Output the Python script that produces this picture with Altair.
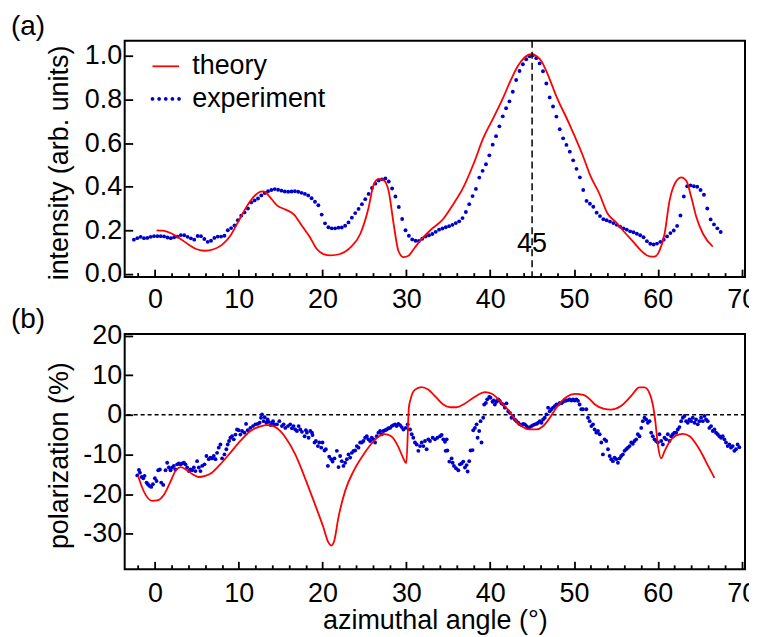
import altair as alt
import numpy as np
import pandas as pd

FONT = "Liberation Sans"
RED = "#ff0000"
BLUE = "#0000cd"

legend_labels = ["theory", "experiment"]
panel_labels = ["(a)", "(b)"]
x_major = [0, 10, 20, 30, 40, 50, 60, 70]
x_minor = [-2, 2, 4, 6, 8, 12, 14, 16, 18, 22, 24, 26, 28, 32, 34, 36, 38,
           42, 44, 46, 48, 52, 54, 56, 58, 62, 64, 66, 68]
ya_ticks = [0.0, 0.2, 0.4, 0.6, 0.8, 1.0]
yb_ticks = [-30, -20, -10, 0, 10, 20]

# ---------------- panel (a): intensity ----------------
exp_a_start = -2.5
exp_a_step = 0.4
exp_a_value = [
    0.157, 0.164, 0.170, 0.164, 0.165, 0.170, 0.173, 0.173, 0.173, 0.172,
    0.167, 0.164, 0.168, 0.171, 0.178, 0.177, 0.170, 0.163, 0.157, 0.174,
    0.173, 0.160, 0.147, 0.152, 0.165, 0.171, 0.171, 0.175,
    0.200, 0.210, 0.222, 0.246, 0.267, 0.282, 0.300, 0.328, 0.337, 0.346,
    0.360, 0.371, 0.379, 0.385, 0.389, 0.386, 0.382, 0.378, 0.377, 0.378,
    0.379, 0.377, 0.372, 0.367, 0.360, 0.347, 0.331, 0.315, 0.272, 0.232,
    0.214, 0.209, 0.209, 0.212,
    0.213, 0.221, 0.236, 0.258, 0.279, 0.298,
    0.320, 0.343, 0.367, 0.394, 0.414, 0.428, 0.434, 0.438, 0.424, 0.392,
    0.355, 0.307, 0.252, 0.200, 0.175, 0.158, 0.152, 0.151, 0.161, 0.171,
    0.177, 0.183, 0.193, 0.203, 0.208, 0.214, 0.219, 0.225, 0.233, 0.241,
    0.256, 0.284, 0.320, 0.357, 0.390, 0.442, 0.473, 0.503, 0.544, 0.593,
    0.632, 0.677, 0.723, 0.760, 0.792, 0.836, 0.890, 0.931, 0.962, 0.985,
    0.999, 1.003, 0.990, 0.966, 0.930, 0.874, 0.810, 0.768, 0.722, 0.664,
    0.622, 0.592, 0.561, 0.521, 0.482, 0.443, 0.385, 0.335, 0.322, 0.308,
    0.281, 0.265, 0.251, 0.246, 0.240, 0.233, 0.225, 0.217, 0.209, 0.203,
    0.195, 0.191, 0.184, 0.177, 0.168, 0.150, 0.138, 0.135, 0.139, 0.147,
    0.157, 0.172, 0.187, 0.199, 0.220, 0.268, 0.355, 0.402, 0.406, 0.402,
    0.400, 0.385, 0.363, 0.300, 0.250, 0.227, 0.209, 0.192,
]

th_a_angle = [
    0.2, 1.0, 2.0, 3.0, 4.0, 5.0, 6.0, 7.0, 8.0, 9.0, 10.0, 11.0, 12.0, 12.6,
    13.0, 13.6, 14.6, 15.6, 16.6, 17.5, 18.5, 19.3, 20.1, 21.0, 22.0, 23.3,
    24.5, 25.5, 26.1, 26.7, 27.3, 27.9, 28.5, 29.05, 29.65, 30.25, 31.0, 32.0,
    33.0, 34.4, 35.6, 36.8, 38.0, 39.2, 40.4, 41.55, 42.5, 43.3, 44.1, 44.9,
    45.6, 46.1, 46.7, 47.9, 49.5, 51.0, 52.0, 53.0, 54.0, 55.0, 56.0, 57.0,
    58.0, 59.0, 59.6, 60.2, 60.8, 61.4, 62.0, 62.8, 63.4, 64.0, 64.6, 65.4,
    66.55,
]
th_a_value = [
    0.200, 0.198, 0.185, 0.162, 0.135, 0.113, 0.106, 0.113, 0.133, 0.175,
    0.243, 0.312, 0.362, 0.377, 0.379, 0.358, 0.313, 0.295, 0.272, 0.223,
    0.168, 0.115, 0.091, 0.085, 0.090, 0.120, 0.183, 0.305, 0.410, 0.436,
    0.430, 0.378, 0.225, 0.106, 0.077, 0.083, 0.120, 0.167, 0.205, 0.252,
    0.320, 0.397, 0.503, 0.625, 0.717, 0.809, 0.893, 0.954, 0.993, 1.008,
    0.998, 0.977, 0.931, 0.815, 0.683, 0.548, 0.446, 0.370, 0.277, 0.237,
    0.192, 0.150, 0.107, 0.080, 0.079, 0.107, 0.183, 0.336, 0.412, 0.443,
    0.427, 0.350, 0.260, 0.183, 0.125,
]

marker_angle = [45]
marker_label = ["45"]
marker_label_y = [0.1]

# ---------------- panel (b): polarization ----------------
th_b_angle = [
    -2.0, -1.6, -1.1, -0.3, 0.3, 1.1, 1.9, 2.5, 3.1, 3.7, 4.5, 5.2, 6.0, 6.8,
    7.8, 9.0, 10.2, 11.4, 12.6, 13.4, 14.2, 15.0, 15.6, 16.75, 17.9, 19.1,
    20.1, 20.7, 21.05, 21.4, 21.9, 22.7, 23.7, 24.9, 26.3, 27.4, 28.2, 29.0,
    29.6, 30.0, 30.3, 30.5, 31.0, 31.8, 32.6, 33.5, 34.4, 35.2, 36.0, 36.8,
    38.0, 39.4, 40.2, 41.2, 42.2, 43.1, 43.9, 44.7, 45.5, 46.3, 47.1, 47.9,
    49.1, 50.1, 51.1, 51.9, 52.5, 53.6, 54.4, 55.6, 56.8, 57.8, 58.4, 59.0,
    59.4, 59.7, 60.0, 60.4, 60.8, 61.4, 62.2, 63.0, 63.8, 64.6, 65.4, 66.0,
    66.75,
]
th_b_value = [
    -15.4, -17.9, -20.2, -21.7, -21.6, -20.1, -16.7, -14.0, -13.2, -13.8,
    -15.0, -15.7, -15.4, -14.6, -12.5, -9.6, -6.6, -4.1, -2.9, -2.6, -2.9,
    -4.2, -5.8, -10.0, -15.9, -22.6, -28.4, -32.2, -33.0, -31.8, -25.9, -19.2,
    -14.2, -10.0, -6.2, -4.9, -5.4, -7.9, -10.8, -12.2, 1.8, 3.9, 6.3, 7.0,
    6.4, 4.5, 2.6, 1.9, 1.9, 2.6, 4.3, 5.7, 5.3, 3.4, 1.1, -1.6, -3.1, -3.7,
    -3.7, -2.9, -0.8, 1.8, 4.5, 5.3, 5.0, 3.9, 2.6, 1.5, 1.3, 2.2, 4.7, 6.9,
    6.9, 5.5, 2.6, -1.6, -7.5, -11.0, -9.2, -6.8, -5.2, -4.8, -5.4, -7.5,
    -10.4, -12.9, -15.9,
]

exp_b_angle = [
    -2.10, -1.90, -1.78, -1.58, -1.38, -1.23, -0.99, -0.83, -0.67, -0.43,
    -0.23, 0.00, 0.20, 0.40, 0.60, 0.76, 1.00, 1.27, 1.47, 1.67,
    1.87, 2.07, 2.26, 2.46, 2.66, 2.86, 3.06, 3.26, 3.46, 3.65,
    3.85, 4.05, 4.25, 4.45, 4.65, 4.84, 5.04, 5.24, 5.44, 5.64,
    5.92, 6.15, 6.43, 6.63, 6.83, 7.03, 7.23, 7.42, 7.62, 7.82,
    8.02, 8.30, 8.53, 8.69, 8.85, 9.01, 9.21, 9.41, 9.61, 9.80,
    10.00, 10.20, 10.40, 10.68, 10.88, 11.08, 11.39, 11.71, 11.99, 12.27,
    12.50, 12.66, 12.78, 12.98, 13.10, 13.30, 13.45, 13.58, 13.80, 13.97,
    14.10, 14.25,
    14.57, 14.85, 15.16, 15.36, 15.56, 15.88, 16.15, 16.35, 16.55, 16.75,
    16.95, 17.15, 17.35, 17.55, 17.86, 18.02, 18.14, 18.34, 18.54, 18.74,
    18.81, 19.05, 19.21, 19.45, 19.61, 19.85, 20.00, 20.24, 20.40, 20.64,
    20.80, 21.04, 21.20, 21.43, 21.71, 21.91, 22.10, 22.30, 22.50, 22.70,
    22.90, 23.10, 23.30, 23.50, 23.70, 23.89, 24.09, 24.29, 24.49, 24.69,
    24.88, 25.08, 25.28, 25.48, 25.68, 25.88, 26.08, 26.27, 26.47, 26.67,
    26.87, 27.07, 27.27, 27.46, 27.66, 27.86, 28.06, 28.26, 28.46, 28.66,
    28.85, 29.05, 29.25, 29.45, 29.65, 29.93, 30.16, 30.44, 30.64, 30.83,
    31.03, 31.23, 31.43, 31.63, 31.83, 32.03, 32.22, 32.42, 32.62,
    32.82, 33.14, 33.42, 33.70, 34.01, 34.21, 34.41, 34.61, 34.81, 34.69,
    34.89, 35.13, 35.40, 35.52, 35.68, 35.92, 36.20, 36.39, 36.59, 36.79,
    36.99, 37.19, 37.31, 37.50, 37.66, 37.90, 37.98, 38.18, 38.38, 38.50,
    38.69, 38.85, 38.97, 39.17, 39.29, 39.49, 39.65, 39.89, 40.04, 40.28,
    40.44, 40.56, 40.76, 40.96, 41.15, 41.35, 41.55, 41.75, 41.95, 42.15,
    42.35, 42.54, 42.74, 42.94, 43.14, 43.34, 43.54, 43.74, 43.93, 44.13,
    44.33, 44.53, 44.73, 44.93, 45.12, 45.32, 45.52, 45.72, 45.92, 46.12,
    46.31, 46.51, 46.71, 46.91, 47.11, 47.30, 47.50, 47.70, 47.90, 48.10,
    48.30, 48.50, 48.69, 48.89, 49.09, 49.29, 49.49, 49.69, 49.88, 50.08,
    50.28, 50.48, 50.67, 50.87, 51.07,
    51.47, 51.67, 51.87, 52.07, 52.27, 52.46, 52.66, 52.86, 53.06, 53.26,
    53.45, 53.65, 53.85, 54.05, 54.25, 54.44, 54.64, 54.84, 55.04, 55.24,
    55.44, 55.63, 55.83, 56.03, 56.23, 56.43, 56.63, 56.83, 57.02, 57.22,
    57.42, 57.62, 57.82, 58.02, 58.21, 58.41, 58.61, 58.81, 59.01, 59.21,
    59.40, 59.60, 59.80, 60.00, 60.20, 60.40, 60.60, 60.79, 60.99, 61.19,
    61.39, 61.59, 61.79, 61.98, 62.18, 62.38, 62.58, 62.78, 62.98, 63.18,
    63.37, 63.57, 63.77, 63.97, 64.17, 64.37, 64.56, 64.76, 64.96, 65.16,
    65.36, 65.56, 65.75, 65.95, 66.15, 66.35, 66.55, 66.75, 66.94, 67.14,
    67.34, 67.54, 67.74, 67.94, 68.13, 68.33, 68.53, 68.73, 68.93, 69.13,
    69.32, 69.52, 69.72,
]
exp_b_value = [
    -15.3, -13.9, -14.6, -15.7, -16.0, -15.4, -17.1, -17.5, -17.9, -18.2,
    -17.5, -16.0, -16.7, -14.0, -13.8, -17.1, -17.7, -14.0, -12.1, -13.3,
    -14.0, -13.3, -12.9, -13.8, -12.5, -12.3, -12.5, -12.3, -12.1, -12.5,
    -13.3, -14.2, -13.8, -14.0, -13.3, -14.2, -11.7, -13.3, -14.2, -12.9,
    -12.5, -10.4, -11.2, -10.8, -11.0, -10.4, -11.2, -9.6, -8.3, -7.5,
    -11.0, -10.0, -8.7, -7.5, -6.6, -5.8, -5.4, -6.2, -5.0, -3.7,
    -3.9, -5.0, -4.1, -4.5, -2.3, -3.9, -3.3, -2.85, -2.4, -2.3,
    -2.0, -0.75, 0.1, -1.6, -0.6, -2.0, -1.2, -1.8, -2.6, -2.0,
    -1.6, -2.4,
    -2.4, -1.6, -2.85, -2.4, -3.3, -2.85, -2.4, -3.4, -2.85, -3.7,
    -4.1, -2.85, -3.7, -4.3, -5.4, -3.9, -4.5, -5.8, -4.1, -4.5,
    -5.1, -7.0, -6.6, -7.9, -7.0, -8.3, -7.0, -9.0, -8.7, -12.9,
    -10.6, -11.2, -11.8, -11.0, -9.1, -13.2, -10.4, -11.7, -12.9, -12.1,
    -11.2, -10.0, -10.8, -9.6, -9.1, -9.0, -7.9, -8.3, -7.0, -7.0,
    -6.6, -5.8, -5.4, -6.2, -6.6, -5.8, -6.2, -7.0, -5.4, -4.5,
    -4.1, -4.9, -4.1, -3.9, -3.7, -3.4, -3.3, -2.85, -2.6, -2.4,
    -2.85, -2.3, -2.6, -3.1, -3.7, -3.3, -2.4, -3.7, -4.9, -5.8,
    -7.0, -7.5, -9.1, -7.9, -7.0, -7.9, -6.6, -8.7, -6.2,
    -6.6, -5.8, -6.2, -5.8, -5.4, -5.1, -6.2, -6.8, -6.2, -9.1,
    -9.0, -11.8, -11.0, -12.1, -12.9, -13.5, -14.0, -12.5, -12.3, -11.8,
    -13.3, -12.7, -14.3, -11.7, -9.0, -8.9, -3.9, -3.3, -2.4, -5.8,
    -4.1, -1.6, -7.0, -0.75, 2.6, 3.0, 3.9, 4.5, 4.3, 3.3,
    3.6, 2.6, 3.3, 3.9, 3.5, 2.9, 2.6, 1.8, 2.9, 0.9,
    0.5, -0.75, -0.3, -1.2, -1.6, -2.0, -2.4, -2.6, -2.3, -2.4,
    -2.85, -3.3, -3.1, -2.85, -2.6, -2.4, -2.3, -2.0, -1.6, -2.0,
    -1.2, -0.75, 0.1, 1.8, 0.9, 1.4, 1.8, 2.2, 2.6, 2.6,
    3.0, 2.9, 3.3, 3.5, 3.6, 3.7, 3.9, 3.6, 3.9, 3.6,
    3.9, 3.5, 2.6, 1.4, 1.4,
    1.4, -0.75, -1.6, -2.85, -2.4, -3.7, -4.5, -4.1, -4.9, -7.0,
    -10.0, -6.2, -6.6, -8.7, -10.4, -11.2, -11.7, -10.8, -11.2, -12.1,
    -11.0, -10.4, -10.0, -9.1, -8.7, -8.3, -7.9, -7.0, -7.3, -6.6,
    -6.2, -4.9, -5.4, -3.3, -1.6, -0.75, -1.2, -2.0, -1.6, -4.5,
    -5.4, -6.2, -6.6, -7.0, -4.9, -6.6, -7.5, -5.8, -6.2, -4.9,
    -6.6, -5.4, -4.9, -4.5, -4.5, -3.7, -3.1, -1.6, -0.75, -0.3,
    -1.6, -2.0, -1.2, -1.6, -0.75, -2.0, -1.2, -2.4, -1.6, -0.75,
    -1.6, -0.3, -1.2, -1.6, -3.3, -2.85, -4.1, -3.7, -4.5, -4.9,
    -5.4, -5.8, -5.4, -6.2, -7.0, -7.9, -7.5, -8.3, -7.9, -9.1,
    -8.7, -7.5, -8.2,
]
zero_level = [0]

# ---------------- tables ----------------
exp_a_angle = np.round(exp_a_start + exp_a_step * np.arange(len(exp_a_value)), 2)
df_exp_a = pd.DataFrame({"angle": exp_a_angle, "value": exp_a_value})
df_th_a = pd.DataFrame({"angle": th_a_angle, "value": th_a_value})
df_mark = pd.DataFrame({"angle": marker_angle, "value": marker_label_y, "label": marker_label})
df_th_b = pd.DataFrame({"angle": th_b_angle, "value": th_b_value})
df_exp_b = pd.DataFrame({"angle": exp_b_angle, "value": exp_b_value})
df_zero = pd.DataFrame({"value": zero_level})
df_leg = pd.DataFrame({"series": legend_labels})

W = 622
HA = 237
HB = 236
TICK_FS = 27
TITLE_FS = 27
PANEL_FS = 28

x_scale = alt.Scale(domain=[-3.6, 70.4], nice=False, zero=False)
ya_scale = alt.Scale(domain=[-0.015, 1.07], nice=False, zero=False)
yb_scale = alt.Scale(domain=[-39.0, 20.4], nice=False, zero=False)

common_lab = dict(ticks=False, tickSize=0, domain=False, grid=False,
                  labelFont=FONT, labelFontSize=TICK_FS, labelColor="black",
                  labelFlush=False, labelOverlap=False)


def x_label_axis(title, pad):
    kw = dict(common_lab)
    kw.update(orient="bottom", values=x_major, labelPadding=pad)
    if title:
        kw.update(title=title, titleFont=FONT, titleFontSize=TITLE_FS,
                  titleFontWeight="normal", titleColor="black",
                  titleBaseline="alphabetic", titleY=59.6, titleX=W / 2,
                  titleAlign="center")
    else:
        kw.update(title=None)
    return alt.Axis(**kw)


def y_label_axis(vals, title, H, fmt=None, expr=None):
    kw = dict(common_lab)
    kw.update(orient="left", values=vals, labelPadding=3,
              title=title, titleFont=FONT, titleFontSize=TITLE_FS,
              titleFontWeight="normal", titleColor="black",
              titleAngle=270, titleBaseline="alphabetic", titleAlign="center",
              titleX=-57.5, titleY=H / 2 + 3.5)
    if fmt:
        kw["format"] = fmt
    if expr:
        kw["labelExpr"] = expr
    return alt.Axis(**kw)


def tick_axis(orient, vals, offset, size):
    return alt.Axis(orient=orient, values=vals, offset=offset, tickSize=size,
                    tickWidth=1.8, tickColor="black", labels=False,
                    domain=False, grid=False, title=None)


def tick_layers(df, y_scale, y_vals, H):
    major = alt.Chart(df).transform_filter("false").mark_point().encode(
        x=alt.X("angle:Q", scale=x_scale, axis=tick_axis("top", x_major, -H, 8)),
        y=alt.Y("value:Q", scale=y_scale, axis=tick_axis("right", y_vals, -W, 8)),
    )
    minor = alt.Chart(df).transform_filter("false").mark_point().encode(
        x=alt.X("angle:Q", scale=x_scale, axis=tick_axis("top", x_minor, -H, 4.5)),
        y=alt.Y("value:Q", scale=y_scale, axis=None),
    )
    return [major, minor]


def panel_label(txt):
    df = pd.DataFrame({"label": [txt]})
    return alt.Chart(df).mark_text(font=FONT, fontSize=PANEL_FS, color="black",
                                   align="left", baseline="alphabetic").encode(
        x=alt.value(-114), y=alt.value(-5.7), text="label:N"
    )


# ---- panel (a)
pts_a = alt.Chart(df_exp_a).mark_circle(size=15, color=BLUE, opacity=1).encode(
    x=alt.X("angle:Q", scale=x_scale, axis=x_label_axis(None, 9.3)),
    y=alt.Y("value:Q", scale=ya_scale,
            axis=y_label_axis(ya_ticks, "intensity (arb. units)", HA, fmt=".1f")),
)
line_a = alt.Chart(df_th_a).mark_line(color=RED, strokeWidth=1.8, interpolate="monotone").encode(
    x=alt.X("angle:Q", scale=x_scale, axis=None),
    y=alt.Y("value:Q", scale=ya_scale, axis=None),
)
vline = alt.Chart(df_mark).mark_rule(color="black", strokeWidth=1.5, strokeDash=[7, 4]).encode(
    x=alt.X("angle:Q", scale=x_scale, axis=None),
)
txt45 = alt.Chart(df_mark).mark_text(font=FONT, fontSize=TICK_FS, color="black",
                                     baseline="alphabetic", align="center").encode(
    x=alt.X("angle:Q", scale=x_scale, axis=None),
    y=alt.Y("value:Q", scale=ya_scale, axis=None),
    text="label:N",
)

LINE_PATH = "M-1,-0.065L1,-0.065L1,0.065L-1,0.065Z"
r = 0.14
DOTS_PATH = " ".join(
    f"M{c - r:.2f},0A{r},{r} 0 1,0 {c + r:.2f},0A{r},{r} 0 1,0 {c - r:.2f},0Z"
    for c in (-1.0, -0.5, 0.0, 0.5, 1.0)
)
leg_spec = alt.Legend(title=None, orient="none", legendX=27.7, legendY=12.1,
                      symbolSize=708, symbolStrokeWidth=0, symbolOpacity=1,
                      labelFont=FONT, labelFontSize=TITLE_FS, labelColor="black",
                      labelOffset=13, rowPadding=4.7, padding=0)
legend_layer = alt.Chart(df_leg).transform_filter("false").mark_point(filled=True, opacity=1).encode(
    color=alt.Color("series:N", scale=alt.Scale(domain=legend_labels, range=[RED, BLUE]), legend=leg_spec),
    shape=alt.Shape("series:N", scale=alt.Scale(domain=legend_labels, range=[LINE_PATH, DOTS_PATH]),
                    legend=leg_spec),
)

top = alt.layer(
    pts_a, line_a, vline, txt45, legend_layer, panel_label(panel_labels[0]),
    *tick_layers(df_exp_a, ya_scale, ya_ticks, HA)
).resolve_axis(x="independent", y="independent").properties(width=W, height=HA)

# ---- panel (b)
pts_b = alt.Chart(df_exp_b).mark_circle(size=15, color=BLUE, opacity=1).encode(
    x=alt.X("angle:Q", scale=x_scale, axis=x_label_axis("azimuthal angle (°)", 11.6)),
    y=alt.Y("value:Q", scale=yb_scale,
            axis=y_label_axis(yb_ticks, "polarization (%)", HB, expr="'' + datum.value")),
)
line_b = alt.Chart(df_th_b).mark_line(color=RED, strokeWidth=1.8, interpolate="monotone").encode(
    x=alt.X("angle:Q", scale=x_scale, axis=None),
    y=alt.Y("value:Q", scale=yb_scale, axis=None),
)
zero_line = alt.Chart(df_zero).mark_rule(color="black", strokeWidth=1.6, strokeDash=[4, 3]).encode(
    y=alt.Y("value:Q", scale=yb_scale, axis=None),
)
bottom = alt.layer(
    zero_line, pts_b, line_b, panel_label(panel_labels[1]),
    *tick_layers(df_exp_b, yb_scale, yb_ticks, HB)
).resolve_axis(x="independent", y="independent").properties(width=W, height=HB)

chart = alt.vconcat(top, bottom, spacing=57, bounds="flush").properties(
    padding={"left": 2, "top": 3, "right": -9, "bottom": 0}
).configure_view(stroke="black", strokeWidth=2)

chart.save("out.html", embed_options={"renderer": "svg", "actions": False})
